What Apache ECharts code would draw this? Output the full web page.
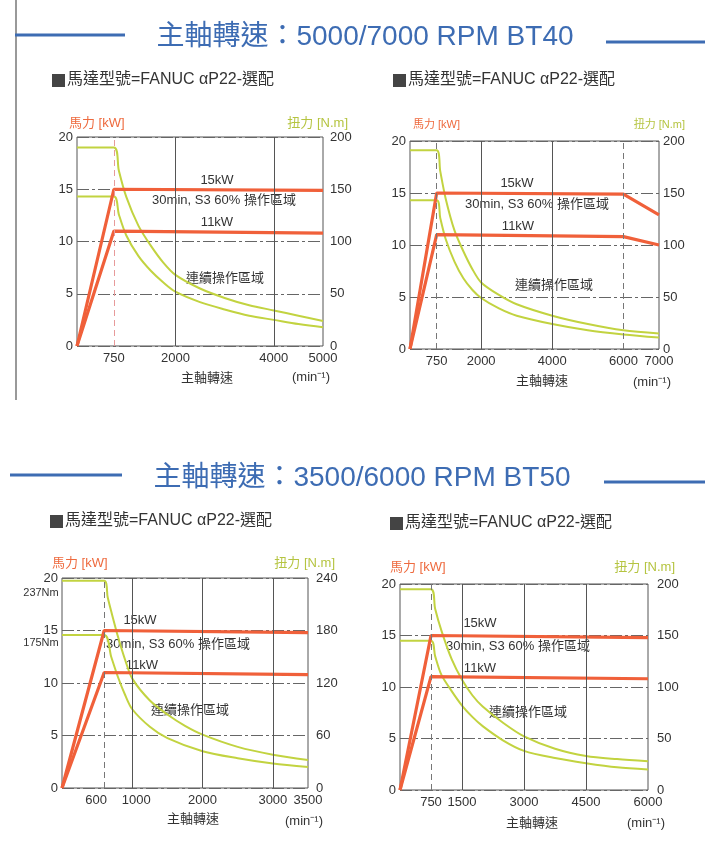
<!DOCTYPE html>
<html><head><meta charset="utf-8">
<script src="https://cdn.jsdelivr.net/npm/echarts@6/dist/echarts.min.js"></script>
<style>html,body{margin:0;padding:0;background:#fff}#c{width:713px;height:851px}</style>
</head><body><div id="c"></div>
<script>
// ---------- DATA ----------
// Chart 1: 5000 RPM (BT40)
const c1Ticks = [750, 2000, 4000, 5000];
const c1S3Power = [[0,0],[750,15],[5000,14.9]];
const c1ContPower = [[0,0],[750,11],[5000,10.8]];
const c1S3Torque = [[0,190],[750,190],[850,168],[1000,143],[1250,115],[1500,96],[1750,80],[2000,68],[2500,55],[3000,46],[3500,39],[4000,34],[4500,29],[5000,24]];
const c1ContTorque = [[0,143],[750,143],[850,126],[1000,106],[1250,86],[1500,72],[1750,61],[2000,52],[2500,42],[3000,35],[3500,29],[4000,25],[4500,21],[5000,18]];
// Chart 2: 7000 RPM (BT40)
const c2Ticks = [750, 2000, 4000, 6000, 7000];
const c2S3Power = [[0,0],[750,15],[6000,14.9],[7000,12.9]];
const c2ContPower = [[0,0],[750,11],[6000,10.8],[7000,10]];
const c2S3Torque = [[0,191],[750,191],[850,171],[1000,145],[1250,114],[1500,94],[1750,77],[2000,64],[2500,52],[3000,43],[4000,32],[5000,24],[6000,18],[7000,15]];
const c2ContTorque = [[0,143],[750,143],[850,126],[1000,106],[1250,84],[1500,68],[1750,57],[2000,49],[2500,39],[3000,32],[4000,24],[5000,18],[6000,14],[7000,11]];
// Chart 3: 3500 RPM (BT50)
const c3Ticks = [600, 1000, 2000, 3000, 3500];
const c3S3Power = [[0,0],[600,15],[3500,14.8]];
const c3ContPower = [[0,0],[600,11],[3500,10.8]];
const c3S3Torque = [[0,237],[600,237],[650,218],[700,202],[800,172],[900,146],[1000,125],[1250,100],[1500,84],[1750,71],[2000,61],[2500,47],[3000,38],[3500,32]];
const c3ContTorque = [[0,175],[600,175],[700,150],[800,126],[900,106],[1000,90],[1250,70],[1500,57],[2000,42],[2500,34],[3000,28],[3500,24]];
// Chart 4: 6000 RPM (BT50)
const c4Ticks = [750, 1500, 3000, 4500, 6000];
const c4S3Power = [[0,0],[750,15],[6000,14.8]];
const c4ContPower = [[0,0],[750,11],[6000,10.8]];
const c4S3Torque = [[0,195],[750,195],[850,176],[1000,155],[1250,127],[1500,107],[1750,92],[2000,81],[2500,65],[3000,52],[3750,40],[4500,33],[5250,30],[6000,28]];
const c4ContTorque = [[0,145],[750,145],[850,130],[1000,112],[1250,96],[1500,82],[1750,71],[2000,62],[2500,48],[3000,38],[3750,31],[4500,26],[5250,22],[6000,20]];

const powerTicksMax = 20, powerInterval = 5;
const torqueMax = [200, 200, 240, 200];
const torqueInterval = [50, 50, 60, 50];
const dashedTicks = [[750], [750, 6000], [600], [750]];

const titleTexts = ['主軸轉速：5000/7000 RPM BT40', '主軸轉速：3500/6000 RPM BT50'];
const subtitleText = '馬達型號=FANUC αP22-選配';
const powerName = '馬力 [kW]';
const torqueName = '扭力 [N.m]';
const xName = '主軸轉速';
const unitName = '(min⁻¹)';
const s3Label = '15kW';
const s3Region = '30min, S3 60% 操作區域';
const contLabel = '11kW';
const contRegion = '連續操作區域';

// ---------- LAYOUT ----------
const FONT = "'Liberation Sans', Arial, 'Noto Sans CJK TC', sans-serif";
const RED = '#f0603a', GREEN = '#c2d340', BLUE = '#3d6cb3';
const boxes = [
  {l:77, t:137, w:246, h:209},
  {l:410, t:141, w:249, h:208},
  {l:62, t:578, w:246, h:210},
  {l:400, t:584, w:248, h:206}
];
const charts = [
  {ticks:c1Ticks, s3p:c1S3Power, cp:c1ContPower, s3t:c1S3Torque, ct:c1ContTorque},
  {ticks:c2Ticks, s3p:c2S3Power, cp:c2ContPower, s3t:c2S3Torque, ct:c2ContTorque},
  {ticks:c3Ticks, s3p:c3S3Power, cp:c3ContPower, s3t:c3S3Torque, ct:c3ContTorque},
  {ticks:c4Ticks, s3p:c4S3Power, cp:c4ContPower, s3t:c4S3Torque, ct:c4ContTorque}
];
const rightMargin = [7, 4, 8, 9];
const nameFont = [13, 11, 13, 13];
// label nudges (text padding) for crowded x labels: [left, right]
const labelNudge = {2: {600: [0, 16], 1000: [8, 0]}};

const grid = [], xAxis = [], yAxis = [], series = [];
charts.forEach((c, i) => {
  const b = boxes[i];
  const xMax = c.ticks[c.ticks.length - 1];
  const nudge = labelNudge[i] || {};
  const rich = {};
  Object.keys(nudge).forEach(k => { rich['n' + k] = {padding:[0, nudge[k][1], 0, nudge[k][0]], fontSize:13, color:'#333', fontFamily:FONT}; });
  grid.push({left:b.l, top:b.t, width:b.w, height:b.h, show:true, borderColor:'#555', borderWidth:1, containLabel:false, outerBoundsMode:'none'});
  xAxis.push({type:'value', gridIndex:i, min:0, max:xMax,
    axisLine:{show:false}, axisTick:{show:false}, splitLine:{show:false},
    axisLabel:{customValues:c.ticks, fontSize:13, color:'#333', margin:6, fontFamily:FONT, rich,
      formatter: v => nudge[v] ? '{n' + v + '|' + v + '}' : String(v)}});
  yAxis.push({type:'value', gridIndex:i, position:'left', min:0, max:powerTicksMax, interval:powerInterval,
    axisLine:{show:false}, axisTick:{show:false},
    axisLabel:{fontSize:13, color:'#333', margin:4, fontFamily:FONT},
    splitLine:{show:true, lineStyle:{color:'#666', width:1, type:[12,3,3,3]}}});
  yAxis.push({type:'value', gridIndex:i, position:'right', min:0, max:torqueMax[i], interval:torqueInterval[i],
    axisLine:{show:false}, axisTick:{show:false},
    axisLabel:{fontSize:13, color:'#333', margin:rightMargin[i], fontFamily:FONT},
    splitLine:{show:false}});
  const vlines = c.ticks.filter(t => t < xMax).map(t => {
    const dashed = dashedTicks[i].includes(t);
    const col = (i === 0 && t === 750) ? '#e79a9a' : (dashed ? '#777' : '#555');
    return {xAxis:t, lineStyle:{color:col, width:1, type: dashed ? [6,4] : 'solid'}};
  });
  series.push({type:'line', xAxisIndex:i, yAxisIndex:2*i, data:[[0,0]], symbol:'none', lineStyle:{width:0}, silent:true, z:1,
    markLine:{silent:true, symbol:['none','none'], label:{show:false}, animation:false, data:vlines}});
  const green = (d) => ({type:'line', xAxisIndex:i, yAxisIndex:2*i+1, data:d, symbol:'none', smooth:0.3,
    lineStyle:{color:GREEN, width:2}, z:3, silent:true});
  const red = (d) => ({type:'line', xAxisIndex:i, yAxisIndex:2*i, data:d, symbol:'none',
    lineStyle:{color:RED, width:3.2}, z:4, silent:true});
  series.push(green(c.s3t), green(c.ct), red(c.s3p), red(c.cp));
});

// ---------- TEXT ----------
const graphic = [];
const txt = (x, y, text, o={}) => graphic.push({type:'text', x, y, silent:true, style:{
  text, fill:o.fill||'#333', font:`${o.size||13}px ${o.family||FONT}`, textAlign:o.align||'center', textVerticalAlign:'middle'}});
const hline = (x1, x2, y, w, col) => graphic.push({type:'line', silent:true, shape:{x1, y1:y, x2, y2:y}, style:{stroke:col, lineWidth:w}});

graphic.push({type:'line', silent:true, shape:{x1:16, y1:0, x2:16, y2:400}, style:{stroke:'#777', lineWidth:1.5}});
hline(15, 125, 35, 3, BLUE); hline(606, 705, 42, 3, BLUE);
txt(365, 37, titleTexts[0], {size:28, fill:BLUE});
hline(10, 122, 475, 3, BLUE); hline(604, 705, 482, 3, BLUE);
txt(362, 478, titleTexts[1], {size:28, fill:BLUE});

[[52,80],[393,80],[50,521],[390,523]].forEach(p => {
  graphic.push({type:'rect', silent:true, shape:{x:p[0], y:p[1]-6, width:13, height:13}, style:{fill:'#444'}});
  txt(p[0] + 15, p[1], subtitleText, {size:16, align:'left', fill:'#333'});
});

const powerNamePos = [[69,123],[413,125],[52,563],[390,567]];
const torqueNamePos = [[348,123],[685,125],[335,563],[675,567]];
powerNamePos.forEach((p,i) => txt(p[0], p[1], powerName, {size:nameFont[i], align:'left', fill:'#ee6a3e'}));
torqueNamePos.forEach((p,i) => txt(p[0], p[1], torqueName, {size:nameFont[i], align:'right', fill:'#b5c440'}));

const xNamePos = [[207,378],[542,381],[193,819],[532,823]];
const unitPos = [[311,377],[652,382],[304,821],[646,823]];
xNamePos.forEach(p => txt(p[0], p[1], xName, {size:13}));
unitPos.forEach(p => txt(p[0], p[1], unitName, {size:13}));

const annos = [
  [[217,180],[224,200],[217,222],[225,278]],
  [[517,183],[537,204],[518,226],[554,285]],
  [[140,620],[178,644],[142,665],[190,710]],
  [[480,623],[518,646],[480,668],[528,712]]
];
annos.forEach(a => {
  txt(a[0][0], a[0][1], s3Label, {size:13});
  txt(a[1][0], a[1][1], s3Region, {size:13});
  txt(a[2][0], a[2][1], contLabel, {size:13});
  txt(a[3][0], a[3][1], contRegion, {size:13});
});
txt(41, 593, c3S3Torque[0][1] + 'Nm', {size:11});
txt(41, 643, c3ContTorque[0][1] + 'Nm', {size:11});

const chart = echarts.init(document.getElementById('c'), null, {renderer:'canvas'});
chart.setOption({animation:false, backgroundColor:'#fff', textStyle:{fontFamily:FONT}, grid, xAxis, yAxis, series, graphic});
</script>
</body></html>
